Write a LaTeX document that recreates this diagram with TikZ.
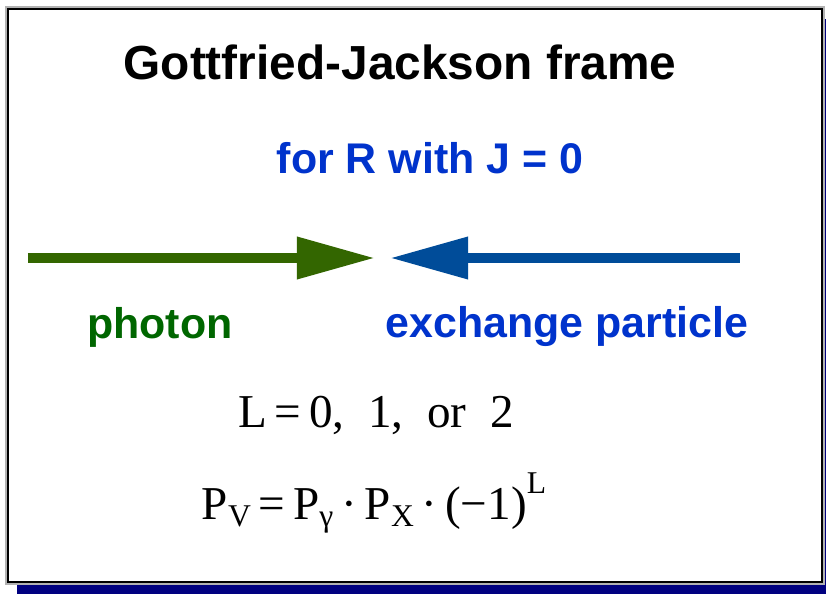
\documentclass[tikz,border=0pt]{standalone}
\usepackage{fontspec}
\setmainfont{Liberation Serif}
\setsansfont{Liberation Sans}
\usetikzlibrary{arrows.meta}

\definecolor{photongreen}{RGB}{51,102,0}
\definecolor{photontext}{RGB}{0,102,0}
\definecolor{exchblue}{RGB}{0,76,153}
\definecolor{exchtext}{RGB}{0,51,204}
\definecolor{shadownavy}{RGB}{0,0,128}

\tikzset{
  titletext/.style={font=\sffamily\bfseries\fontsize{13.6}{16}\selectfont},
  labeltext/.style={font=\sffamily\bfseries\fontsize{12.2}{14}\selectfont},
  eqtext/.style={font=\rmfamily\fontsize{13.4}{16}\selectfont},
  bigarrow/.style={line width=0.1cm, -{Triangle[length=0.78cm,width=0.4cm]}},
}

\begin{document}
\begin{tikzpicture}[x=0.01cm, y=-0.01cm]
    \useasboundingbox (0,0) rectangle (826,594);
    % Cadre avec ombre
    \fill[shadownavy] (17,19) rectangle (836,600);
    \draw[gray!60, line width=0.04cm, fill=white] (7,8) rectangle (823,583);
    \draw[black, line width=0.02cm] (8,9) rectangle (822,582);

    % Titres
    \node[titletext] (title) at (400,62) {Gottfried-Jackson frame};
    \node[labeltext, text=exchtext] (cond) at (430,158) {for R with J = 0};

    % Fleches
    \coordinate (gstart) at (28,258);
    \coordinate (gtip) at (375,258);
    \coordinate (bstart) at (740,258);
    \coordinate (btip) at (390,258);
    \draw[bigarrow, photongreen] (gstart) -- (gtip);
    \draw[bigarrow, exchblue] (bstart) -- (btip);

    \node[labeltext, text=photontext] (photon) at (160,327) {photon};
    \node[labeltext, text=exchtext] (exch) at (567,327) {exchange particle};

    % Equations
    \node[eqtext] (lval) at (376,415) {L\,=\,0,\ \ 1,\ \ or\ \ 2};
    \node[eqtext] (parity) at (374,503) {P\raisebox{-0.35ex}{\small V}\,=\,P\raisebox{-0.35ex}{\small γ}\,·\,P\raisebox{-0.35ex}{\small X}\,·\,(−1)\raisebox{1.2ex}{\small L}};
\end{tikzpicture}
\end{document}
